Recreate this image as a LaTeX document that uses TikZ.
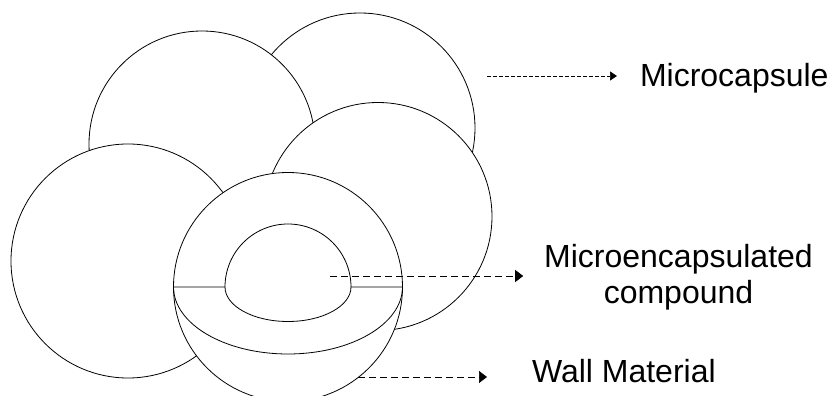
\documentclass[tikz,border=0pt]{standalone}
\usepackage{fontspec}
\setmainfont{Liberation Sans}
\usetikzlibrary{arrows.meta}

\begin{document}
\begin{tikzpicture}[x=1pt, y=1pt, font=\fontsize{32}{36}\selectfont]
\tikzstyle{ball} = [circle, draw, fill=white, line width=0.8pt, inner sep=0pt, outer sep=0pt]
\tikzstyle{cut} = [line width=0.8pt]
\tikzstyle{tag} = [inner ysep=0pt, outer sep=0pt]
\tikzstyle{pointer} = [line width=0.7pt, dash pattern=on 7pt off 4pt, -{Triangle[length=8pt, width=12pt]}]

\useasboundingbox (0,0) rectangle (831,396);

% back row first, front capsule last
\node[ball, minimum size=230pt] (back) at (360,268) {};
\node[ball, minimum size=226pt] (top) at (202,252) {};
\node[ball, minimum size=234pt] (left) at (128,135) {};
\node[ball, minimum size=228pt] (right) at (378,179.5) {};
\node[ball, minimum size=229pt] (front) at (288,109) {};

% front capsule cut open: core on top, shell below
\draw[cut] (front.west) -- (225,109) arc[start angle=180, end angle=0, radius=63] -- (front.east);
\draw[cut] (225,109) arc[start angle=180, end angle=360, x radius=63, y radius=34.5];
\draw[cut] (front.west) arc[start angle=180, end angle=360, x radius=114.5, y radius=67];

% labels
\node[tag, inner xsep=23pt, anchor=base west] (capsule) at (617,309) {Microcapsule};
\node[tag, inner xsep=21pt, align=center] (core) at (678.5,119) {Microencapsulated\\compound};
\node[tag, inner xsep=45pt, anchor=base west] (wall) at (487,13) {Wall Material};

\coordinate (capsule-from) at (487,320);
\coordinate (core-from) at (330,120);
\coordinate (wall-from) at (358,19);

\draw[pointer, dash pattern=on 4pt off 2pt, -{Triangle[length=7pt, width=9pt]}] (capsule-from) -- (capsule-from -| capsule.west);
\draw[pointer] (core-from) -- (core-from -| core.west);
\draw[pointer] (wall-from) -- (wall-from -| wall.west);
\end{tikzpicture}
\end{document}
